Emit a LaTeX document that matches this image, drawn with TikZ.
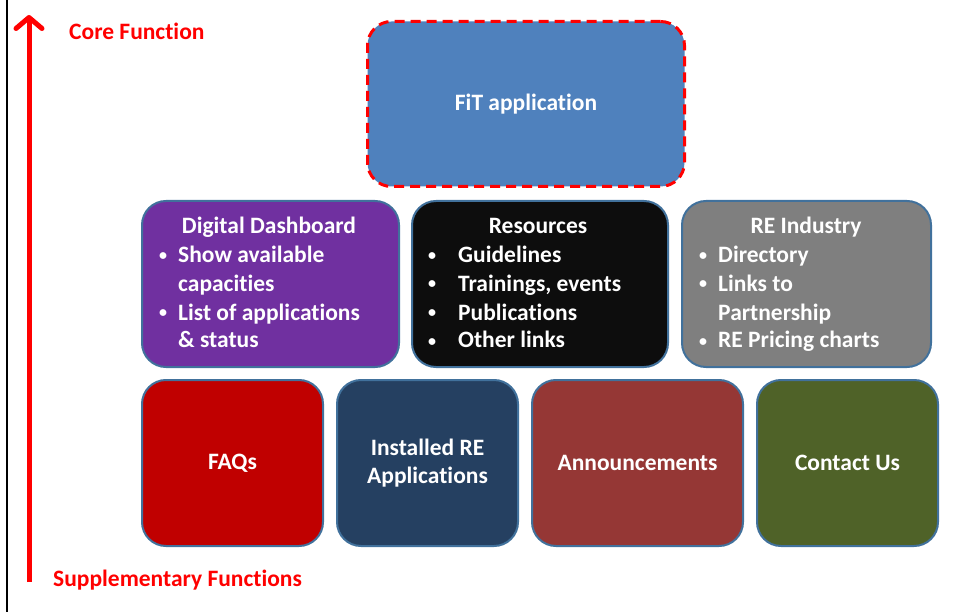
\documentclass[tikz,border=0pt]{standalone}
\usepackage{fontspec}
\setmainfont{Carlito}[Ligatures=NoCommon]
\usetikzlibrary{arrows.meta}
\definecolor{edge}{HTML}{41719C}
\definecolor{fitblue}{HTML}{4F81BD}
\definecolor{ddpurple}{HTML}{7030A0}
\definecolor{resblack}{HTML}{0D0D0D}
\definecolor{regray}{HTML}{7F7F7F}
\definecolor{faqred}{HTML}{C00000}
\definecolor{instblue}{HTML}{254061}
\definecolor{annred}{HTML}{953735}
\definecolor{contgreen}{HTML}{4F6228}
\definecolor{pured}{HTML}{FF0000}
\begin{document}
\begin{tikzpicture}[x=1pt,y=-1pt,
  box/.style={draw=edge, line width=2pt, rounded corners=24pt, anchor=north west, inner sep=0pt},
  txt/.style={text=white, font=\fontsize{23.5}{28}\selectfont\bfseries, inner sep=0pt},
  bul/.style={text=white, font=\fontsize{16}{20}\selectfont\bfseries, inner sep=0pt, anchor=base},
  lbl/.style={text=pured, font=\fontsize{23.5}{28}\selectfont\bfseries, inner sep=0pt, anchor=base west}]
\useasboundingbox (0,0) rectangle (953,612);
\draw[black, line width=2pt] (7,0) -- (7,612);
% arrow
\coordinate (abot) at (29,582);
\coordinate (atop) at (29,15);
\draw[pured, line width=5pt, -{Straight Barb[length=11pt,width=26pt,line width=5pt,round]}] (abot) -- (atop);
\node[lbl] (core) at (69,40) {Core Function};
\node[lbl] (supp) at (53,586) {Supplementary Functions};
% top box
\node[box, draw=pured, line width=3pt, dash pattern=on 10pt off 6pt, fill=fitblue, minimum width=317pt, minimum height=165pt] (fit) at (366,20) {};
\node[txt] (fitt) at (fit.center) {FiT application};
% middle row
\node[box, fill=ddpurple, minimum width=257pt, minimum height=166pt] (dd) at (141,200) {};
\node[box, fill=resblack, minimum width=256pt, minimum height=166pt] (res) at (411,200) {};
\node[box, fill=regray, minimum width=249pt, minimum height=166pt] (rei) at (681,200) {};
% bottom row
\node[box, fill=faqred, minimum width=181pt, minimum height=166pt] (faq) at (141,379) {};
\node[box, fill=instblue, minimum width=181pt, minimum height=166pt] (inst) at (336,379) {};
\node[box, fill=annred, minimum width=211pt, minimum height=166pt] (ann) at (531,379) {};
\node[box, fill=contgreen, minimum width=181pt, minimum height=166pt] (cont) at (756,379) {};
\node[txt] (faqt) at (faq.center) {FAQs};
\node[txt, align=center, font=\fontsize{23.5}{28.5}\selectfont\bfseries] (instt) at (inst.center) {Installed RE\\Applications};
\node[txt] (annt) at (ann.center) {Announcements};
\node[txt] (contt) at (cont.center) {Contact Us};
% Digital Dashboard text
\node[txt, anchor=base] (ddt) at (269,234) {Digital Dashboard};
\node[bul] (ddb1) at (163,261) {•};
\node[txt, anchor=base west] (ddl1) at (178,263) {Show available};
\node[txt, anchor=base west] (ddl2) at (178,291) {capacities};
\node[bul] (ddb2) at (163,318) {•};
\node[txt, anchor=base west] (ddl3) at (178,320) {List of applications};
\node[txt, anchor=base west] (ddl4) at (178,348) {\& status};
% Resources text
\node[txt, anchor=base] (rest) at (538,234) {Resources};
\node[bul] (resb1) at (432,261) {•};
\node[txt, anchor=base west] (resl1) at (458,263) {Guidelines};
\node[bul] (resb2) at (432,289) {•};
\node[txt, anchor=base west] (resl2) at (458,291) {Trainings, events};
\node[bul] (resb3) at (432,318) {•};
\node[txt, anchor=base west] (resl3) at (458,320) {Publications};
\node[bul] (resb4) at (432,346) {•};
\node[txt, anchor=base west] (resl4) at (458,348) {Other links};
% RE Industry text
\node[txt, anchor=base] (reit) at (806,234) {RE Industry};
\node[bul] (reib1) at (703,261) {•};
\node[txt, anchor=base west] (reil1) at (718,263) {Directory};
\node[bul] (reib2) at (703,289) {•};
\node[txt, anchor=base west] (reil2) at (718,291) {Links to};
\node[txt, anchor=base west] (reil3) at (718,320) {Partnership};
\node[bul] (reib3) at (703,346) {•};
\node[txt, anchor=base west] (reil4) at (718,348) {RE Pricing charts};
\end{tikzpicture}
\end{document}
